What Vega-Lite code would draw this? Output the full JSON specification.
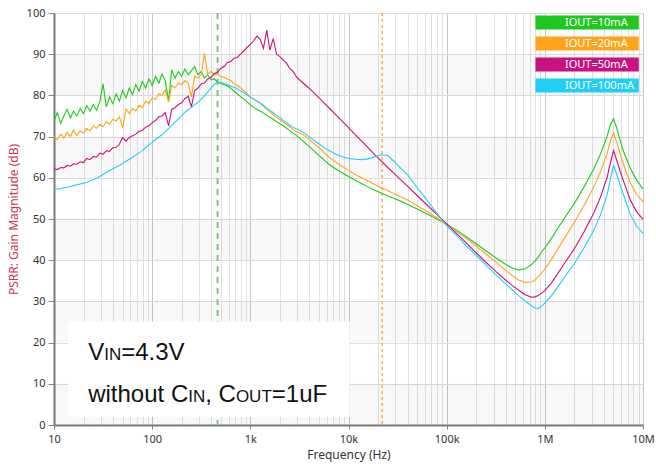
{
"$schema": "https://vega.github.io/schema/vega-lite/v6.json",
"width": 589, "height": 412,
"autosize": {"type": "none"},
"padding": {"left": 54, "top": 13, "right": 13, "bottom": 45},
"background": "white",
"config": {
  "font": "Noto Sans",
  "view": {"stroke": "#cccccc", "strokeWidth": 1},
  "axis": {"labelFont": "Noto Sans", "labelFontSize": 11, "labelColor": "#333333", "titleFont": "Noto Sans", "titleFontSize": 12, "titleFontWeight": "normal", "domainColor": "#7a7a7a", "domainWidth": 2, "tickColor": "#888888"}
},
"layer": [
  {
    "data": {"values": [{"lo": 0, "hi": 10}, {"lo": 20, "hi": 30}, {"lo": 40, "hi": 50}, {"lo": 60, "hi": 70}, {"lo": 80, "hi": 90}]},
    "mark": {"type": "rect", "fill": "#000000", "fillOpacity": 0.028},
    "encoding": {
      "y": {"field": "lo", "type": "quantitative", "scale": {"domain": [0, 100], "nice": false}},
      "y2": {"field": "hi"}
    }
  },
  {
    "data": {"values": [{}]},
    "mark": {"type": "rule", "color": "#80c480", "strokeWidth": 2, "strokeDash": [6, 5]},
    "encoding": {"x": {"datum": 464, "type": "quantitative", "scale": {"type": "log", "domain": [10, 10000000], "nice": false}}}
  },
  {
    "data": {"values": [{}]},
    "mark": {"type": "rule", "color": "#ff9a1f", "strokeWidth": 1.2, "strokeDash": [3, 3]},
    "encoding": {"x": {"datum": 22000, "type": "quantitative", "scale": {"type": "log", "domain": [10, 10000000], "nice": false}}}
  },
  {
    "data": {"values": [{}]},
    "mark": {"type": "rect", "fill": "white"},
    "encoding": {
      "x": {"datum": 14, "type": "quantitative", "scale": {"type": "log", "domain": [10, 10000000], "nice": false}},
      "x2": {"datum": 10300},
      "y": {"datum": 25.1, "type": "quantitative", "scale": {"domain": [0, 100], "nice": false}},
      "y2": {"datum": 2.0}
    }
  },
  {
    "data": {"values": [
{"f":10,"10mA":73.8,"20mA":70.0,"50mA":62.2,"100mA":57.2},
{"f":10.8,"10mA":75.8,"20mA":69.2,"50mA":62.0,"100mA":57.3},
{"f":11.7,"10mA":73.2,"20mA":70.6,"50mA":62.5,"100mA":57.4},
{"f":12.6,"10mA":75.0,"20mA":69.6,"50mA":62.4,"100mA":57.6},
{"f":13.6,"10mA":76.6,"20mA":71.0,"50mA":63.0,"100mA":57.7},
{"f":14.7,"10mA":74.5,"20mA":70.0,"50mA":62.8,"100mA":57.9},
{"f":15.8,"10mA":76.2,"20mA":71.6,"50mA":63.4,"100mA":58.1},
{"f":17.1,"10mA":75.0,"20mA":70.2,"50mA":63.3,"100mA":58.3},
{"f":18.5,"10mA":76.8,"20mA":71.4,"50mA":63.9,"100mA":58.5},
{"f":20.0,"10mA":75.6,"20mA":70.8,"50mA":63.7,"100mA":58.7},
{"f":21.5,"10mA":77.5,"20mA":72.0,"50mA":64.7,"100mA":58.9},
{"f":23.3,"10mA":76.2,"20mA":71.4,"50mA":64.4,"100mA":59.2},
{"f":25.1,"10mA":77.8,"20mA":72.6,"50mA":65.2,"100mA":59.5},
{"f":27.1,"10mA":76.4,"20mA":72.0,"50mA":65.0,"100mA":59.9},
{"f":29.3,"10mA":78.5,"20mA":73.0,"50mA":66.0,"100mA":60.3},
{"f":31.6,"10mA":82.8,"20mA":72.4,"50mA":65.7,"100mA":60.8},
{"f":34.1,"10mA":77.2,"20mA":73.6,"50mA":66.6,"100mA":61.3},
{"f":36.8,"10mA":79.6,"20mA":73.0,"50mA":66.4,"100mA":61.7},
{"f":39.8,"10mA":78.0,"20mA":74.2,"50mA":67.3,"100mA":62.2},
{"f":43.0,"10mA":80.4,"20mA":73.8,"50mA":67.4,"100mA":62.6},
{"f":46.4,"10mA":78.6,"20mA":74.8,"50mA":68.2,"100mA":63.0},
{"f":50.1,"10mA":81.2,"20mA":72.2,"50mA":69.8,"100mA":63.5},
{"f":54.1,"10mA":79.4,"20mA":76.8,"50mA":68.9,"100mA":64.0},
{"f":58.5,"10mA":81.8,"20mA":75.6,"50mA":69.8,"100mA":64.5},
{"f":63.1,"10mA":80.2,"20mA":76.8,"50mA":70.2,"100mA":65.0},
{"f":68.1,"10mA":82.6,"20mA":76.2,"50mA":70.6,"100mA":65.5},
{"f":73.6,"10mA":81.0,"20mA":77.6,"50mA":71.3,"100mA":66.0},
{"f":79.4,"10mA":83.4,"20mA":77.0,"50mA":71.5,"100mA":66.6},
{"f":85.8,"10mA":81.8,"20mA":78.6,"50mA":72.3,"100mA":67.3},
{"f":92.6,"10mA":84.0,"20mA":78.0,"50mA":72.6,"100mA":68.0},
{"f":100,"10mA":82.4,"20mA":79.4,"50mA":73.4,"100mA":68.6},
{"f":108,"10mA":84.6,"20mA":79.0,"50mA":73.9,"100mA":69.3},
{"f":117,"10mA":83.0,"20mA":80.4,"50mA":74.8,"100mA":69.9},
{"f":126,"10mA":85.2,"20mA":80.0,"50mA":75.0,"100mA":70.5},
{"f":136,"10mA":83.6,"20mA":81.4,"50mA":75.8,"100mA":71.2},
{"f":147,"10mA":78.6,"20mA":78.4,"50mA":72.6,"100mA":72.0},
{"f":158,"10mA":86.2,"20mA":82.4,"50mA":76.6,"100mA":72.7},
{"f":171,"10mA":84.2,"20mA":81.8,"50mA":77.0,"100mA":73.5},
{"f":185,"10mA":85.8,"20mA":83.0,"50mA":77.8,"100mA":74.3},
{"f":200,"10mA":84.6,"20mA":82.6,"50mA":78.2,"100mA":75.1},
{"f":215,"10mA":86.4,"20mA":83.6,"50mA":79.2,"100mA":75.9},
{"f":233,"10mA":85.0,"20mA":83.0,"50mA":79.8,"100mA":76.5},
{"f":251,"10mA":86.0,"20mA":79.6,"50mA":77.2,"100mA":77.1},
{"f":271,"10mA":87.0,"20mA":84.6,"50mA":81.2,"100mA":77.7},
{"f":293,"10mA":85.0,"20mA":84.2,"50mA":81.8,"100mA":78.3},
{"f":316,"10mA":85.8,"20mA":85.0,"50mA":82.8,"100mA":79.1},
{"f":341,"10mA":84.2,"20mA":90.2,"50mA":83.0,"100mA":79.9},
{"f":368,"10mA":85.0,"20mA":85.2,"50mA":84.0,"100mA":80.8},
{"f":398,"10mA":83.8,"20mA":85.8,"50mA":84.4,"100mA":81.8},
{"f":430,"10mA":84.0,"20mA":85.0,"50mA":85.3,"100mA":82.7},
{"f":464,"10mA":83.2,"20mA":85.2,"50mA":85.6,"100mA":83.2},
{"f":501,"10mA":82.9,"20mA":84.6,"50mA":86.6,"100mA":83.2},
{"f":541,"10mA":82.6,"20mA":84.4,"50mA":87.0,"100mA":82.9},
{"f":585,"10mA":82.3,"20mA":84.0,"50mA":88.0,"100mA":82.6},
{"f":631,"10mA":81.8,"20mA":83.6,"50mA":88.2,"100mA":82.3},
{"f":681,"10mA":81.0,"20mA":82.8,"50mA":89.0,"100mA":82.0},
{"f":736,"10mA":80.4,"20mA":82.4,"50mA":89.2,"100mA":81.6},
{"f":794,"10mA":79.7,"20mA":81.8,"50mA":90.0,"100mA":81.1},
{"f":891,"10mA":78.8,"20mA":80.8,"50mA":91.2,"100mA":80.4},
{"f":1000,"10mA":77.7,"20mA":79.7,"50mA":92.4,"100mA":79.6},
{"f":1080,"10mA":77.1,"20mA":79.2,"50mA":93.2,"100mA":79.1},
{"f":1170,"10mA":76.6,"20mA":78.6,"50mA":94.4,"100mA":78.6},
{"f":1260,"10mA":76.2,"20mA":78.0,"50mA":93.6,"100mA":78.1},
{"f":1360,"10mA":75.7,"20mA":77.4,"50mA":91.4,"100mA":77.6},
{"f":1470,"10mA":75.2,"20mA":76.6,"50mA":95.8,"100mA":76.9},
{"f":1580,"10mA":74.7,"20mA":76.0,"50mA":91.0,"100mA":76.4},
{"f":1710,"10mA":74.2,"20mA":75.3,"50mA":93.8,"100mA":75.8},
{"f":1850,"10mA":73.6,"20mA":74.7,"50mA":90.0,"100mA":75.2},
{"f":2000,"10mA":73.1,"20mA":74.1,"50mA":89.4,"100mA":74.6},
{"f":2150,"10mA":72.7,"20mA":73.6,"50mA":88.6,"100mA":74.0},
{"f":2330,"10mA":72.1,"20mA":73.0,"50mA":87.9,"100mA":73.4},
{"f":2510,"10mA":71.5,"20mA":72.4,"50mA":86.6,"100mA":72.8},
{"f":2710,"10mA":70.9,"20mA":71.8,"50mA":85.9,"100mA":72.3},
{"f":2930,"10mA":70.3,"20mA":71.2,"50mA":84.6,"100mA":71.9},
{"f":3160,"10mA":69.7,"20mA":71.0,"50mA":83.8,"100mA":71.6},
{"f":3680,"10mA":68.3,"20mA":70.0,"50mA":82.4,"100mA":70.6},
{"f":4300,"10mA":66.9,"20mA":68.6,"50mA":81.0,"100mA":69.4},
{"f":5010,"10mA":65.4,"20mA":67.3,"50mA":79.4,"100mA":68.2},
{"f":6310,"10mA":63.3,"20mA":65.0,"50mA":77.0,"100mA":66.6},
{"f":7940,"10mA":61.7,"20mA":63.3,"50mA":74.6,"100mA":65.4},
{"f":10000,"10mA":60.3,"20mA":61.8,"50mA":72.2,"100mA":64.7},
{"f":11700,"10mA":59.4,"20mA":60.8,"50mA":70.5,"100mA":64.5},
{"f":13600,"10mA":58.6,"20mA":60.0,"50mA":68.9,"100mA":64.4},
{"f":15800,"10mA":57.8,"20mA":59.2,"50mA":67.3,"100mA":64.6},
{"f":18500,"10mA":57.0,"20mA":58.4,"50mA":65.6,"100mA":65.1},
{"f":21500,"10mA":56.3,"20mA":57.6,"50mA":64.1,"100mA":65.6},
{"f":25100,"10mA":55.6,"20mA":56.9,"50mA":62.5,"100mA":65.4},
{"f":29300,"10mA":55.0,"20mA":56.1,"50mA":61.0,"100mA":63.9},
{"f":34100,"10mA":54.3,"20mA":55.4,"50mA":59.5,"100mA":62.3},
{"f":39800,"10mA":53.6,"20mA":54.6,"50mA":58.0,"100mA":60.8},
{"f":50100,"10mA":52.4,"20mA":53.2,"50mA":55.7,"100mA":57.6},
{"f":63100,"10mA":51.2,"20mA":51.8,"50mA":53.4,"100mA":54.6},
{"f":79400,"10mA":50.0,"20mA":50.3,"50mA":51.1,"100mA":51.4},
{"f":100000,"10mA":48.7,"20mA":48.8,"50mA":48.8,"100mA":48.4},
{"f":126000,"10mA":47.3,"20mA":47.0,"50mA":46.5,"100mA":46.0},
{"f":158000,"10mA":45.7,"20mA":45.3,"50mA":44.2,"100mA":43.5},
{"f":200000,"10mA":44.0,"20mA":43.4,"50mA":41.8,"100mA":41.2},
{"f":251000,"10mA":42.3,"20mA":41.5,"50mA":39.5,"100mA":38.8},
{"f":316000,"10mA":40.6,"20mA":39.6,"50mA":37.3,"100mA":36.5},
{"f":398000,"10mA":39.0,"20mA":37.6,"50mA":35.2,"100mA":34.3},
{"f":464000,"10mA":38.1,"20mA":36.3,"50mA":33.9,"100mA":32.8},
{"f":541000,"10mA":37.6,"20mA":35.2,"50mA":32.7,"100mA":31.4},
{"f":631000,"10mA":37.9,"20mA":34.6,"50mA":31.6,"100mA":30.1},
{"f":736000,"10mA":39.0,"20mA":34.7,"50mA":31.0,"100mA":28.9},
{"f":794000,"10mA":39.8,"20mA":35.2,"50mA":31.1,"100mA":28.4},
{"f":858000,"10mA":40.8,"20mA":36.0,"50mA":31.4,"100mA":28.3},
{"f":926000,"10mA":42.0,"20mA":36.9,"50mA":32.0,"100mA":28.8},
{"f":1000000,"10mA":43.0,"20mA":37.9,"50mA":32.6,"100mA":29.6},
{"f":1170000,"10mA":45.3,"20mA":40.2,"50mA":34.5,"100mA":31.4},
{"f":1360000,"10mA":47.8,"20mA":42.8,"50mA":36.8,"100mA":33.6},
{"f":1580000,"10mA":50.2,"20mA":45.3,"50mA":39.2,"100mA":35.8},
{"f":2000000,"10mA":53.8,"20mA":49.2,"50mA":42.8,"100mA":39.2},
{"f":2510000,"10mA":57.8,"20mA":53.3,"50mA":46.9,"100mA":43.0},
{"f":3160000,"10mA":62.2,"20mA":57.8,"50mA":51.5,"100mA":47.3},
{"f":3690000,"10mA":65.8,"20mA":61.5,"50mA":55.3,"100mA":51.0},
{"f":4300000,"10mA":70.0,"20mA":65.8,"50mA":60.0,"100mA":55.8},
{"f":4640000,"10mA":72.8,"20mA":68.8,"50mA":63.5,"100mA":59.6},
{"f":5010000,"10mA":74.4,"20mA":70.9,"50mA":66.6,"100mA":63.0},
{"f":5410000,"10mA":72.0,"20mA":68.6,"50mA":64.2,"100mA":60.8},
{"f":5850000,"10mA":69.0,"20mA":65.8,"50mA":61.6,"100mA":58.3},
{"f":6310000,"10mA":66.5,"20mA":63.3,"50mA":59.3,"100mA":56.0},
{"f":7360000,"10mA":62.5,"20mA":59.0,"50mA":54.8,"100mA":51.3},
{"f":8580000,"10mA":59.5,"20mA":56.0,"50mA":51.8,"100mA":48.3},
{"f":10000000,"10mA":57.3,"20mA":54.2,"50mA":49.9,"100mA":46.5}
    ]},
    "transform": [{"fold": ["10mA", "20mA", "50mA", "100mA"], "as": ["key", "db"]}],
    "mark": {"type": "line", "strokeWidth": 1.1},
    "encoding": {
      "x": {"field": "f", "type": "quantitative",
        "scale": {"type": "log", "domain": [10, 10000000], "nice": false},
        "axis": {
          "title": "Frequency (Hz)", "titleColor": "#333333", "titlePadding": 5,
          "values": [10,20,30,40,50,60,70,80,90,100,200,300,400,500,600,700,800,900,1000,2000,3000,4000,5000,6000,7000,8000,9000,10000,20000,30000,40000,50000,60000,70000,80000,90000,100000,200000,300000,400000,500000,600000,700000,800000,900000,1000000,2000000,3000000,4000000,5000000,6000000,7000000,8000000,9000000,10000000],
          "labelExpr": "datum.value==10?'10':datum.value==100?'100':datum.value==1000?'1k':datum.value==10000?'10k':datum.value==100000?'100k':datum.value==1000000?'1M':datum.value==10000000?'10M':''",
          "labelOverlap": false, "labelFlush": false, "labelBound": false, "labelPadding": 4,
          "grid": true,
          "gridColor": {"condition": {"test": "indexof([10,100,1000,10000,100000,1000000,10000000], datum.value) >= 0", "value": "#c6c6c6"}, "value": "#e2e2e2"},
          "tickSize": 4,
          "tickOpacity": {"condition": {"test": "indexof([10,100,1000,10000,100000,1000000,10000000], datum.value) >= 0", "value": 1}, "value": 0}
        }
      },
      "y": {"field": "db", "type": "quantitative",
        "scale": {"domain": [0, 100], "nice": false},
        "axis": {
          "title": "PSRR: Gain Magnitude (dB)", "titleColor": "#cc3355", "titlePadding": 6,
          "values": [0,10,20,30,40,50,60,70,80,90,100],
          "grid": true, "gridColor": "#dcdcdc", "tickSize": 6, "labelPadding": 3
        }
      },
      "color": {"field": "key", "type": "nominal",
        "scale": {"domain": ["10mA", "20mA", "50mA", "100mA"], "range": ["#1fc81f", "#ffa31a", "#c8127f", "#1fcff5"]},
        "legend": {
          "orient": "top-right", "offset": 4, "padding": 0, "title": null,
          "symbolType": "M-1,-1.4H19.66V1.4H-1Z", "symbolSize": 100, "symbolStrokeWidth": 0, "symbolOpacity": 1,
          "labelColor": "white", "labelFont": "Noto Sans", "labelFontSize": 11, "labelOffset": 19, "rowPadding": 6,
          "labelExpr": "'IOUT=' + datum.label",
          "encode": {"symbols": {"update": {"fill": {"scale": "color", "field": "value"}, "stroke": {"value": "transparent"}}}}
        }
      }
    }
  },
  {"data": {"values": [{}]}, "mark": {"type": "text", "text": "V", "font": "Liberation Sans", "fontSize": 24, "align": "left", "baseline": "alphabetic", "color": "#111111", "dx": 0},
   "encoding": {"x": {"datum": 22.3, "type": "quantitative", "scale": {"type": "log", "domain": [10, 10000000], "nice": false}}, "y": {"datum": 15.8, "type": "quantitative", "scale": {"domain": [0, 100], "nice": false}}}},
  {"data": {"values": [{}]}, "mark": {"type": "text", "text": "IN", "font": "Liberation Sans", "fontSize": 17, "align": "left", "baseline": "alphabetic", "color": "#111111", "dx": 16},
   "encoding": {"x": {"datum": 22.3, "type": "quantitative", "scale": {"type": "log", "domain": [10, 10000000], "nice": false}}, "y": {"datum": 15.8, "type": "quantitative", "scale": {"domain": [0, 100], "nice": false}}}},
  {"data": {"values": [{}]}, "mark": {"type": "text", "text": "=4.3V", "font": "Liberation Sans", "fontSize": 24, "align": "left", "baseline": "alphabetic", "color": "#111111", "dx": 33},
   "encoding": {"x": {"datum": 22.3, "type": "quantitative", "scale": {"type": "log", "domain": [10, 10000000], "nice": false}}, "y": {"datum": 15.8, "type": "quantitative", "scale": {"domain": [0, 100], "nice": false}}}},
  {"data": {"values": [{}]}, "mark": {"type": "text", "text": "without C", "font": "Liberation Sans", "fontSize": 24, "align": "left", "baseline": "alphabetic", "color": "#111111", "dx": 0},
   "encoding": {"x": {"datum": 22.3, "type": "quantitative", "scale": {"type": "log", "domain": [10, 10000000], "nice": false}}, "y": {"datum": 5.66, "type": "quantitative", "scale": {"domain": [0, 100], "nice": false}}}},
  {"data": {"values": [{}]}, "mark": {"type": "text", "text": "IN", "font": "Liberation Sans", "fontSize": 17, "align": "left", "baseline": "alphabetic", "color": "#111111", "dx": 100},
   "encoding": {"x": {"datum": 22.3, "type": "quantitative", "scale": {"type": "log", "domain": [10, 10000000], "nice": false}}, "y": {"datum": 5.66, "type": "quantitative", "scale": {"domain": [0, 100], "nice": false}}}},
  {"data": {"values": [{}]}, "mark": {"type": "text", "text": ", C", "font": "Liberation Sans", "fontSize": 24, "align": "left", "baseline": "alphabetic", "color": "#111111", "dx": 117},
   "encoding": {"x": {"datum": 22.3, "type": "quantitative", "scale": {"type": "log", "domain": [10, 10000000], "nice": false}}, "y": {"datum": 5.66, "type": "quantitative", "scale": {"domain": [0, 100], "nice": false}}}},
  {"data": {"values": [{}]}, "mark": {"type": "text", "text": "OUT", "font": "Liberation Sans", "fontSize": 17, "align": "left", "baseline": "alphabetic", "color": "#111111", "dx": 147.7},
   "encoding": {"x": {"datum": 22.3, "type": "quantitative", "scale": {"type": "log", "domain": [10, 10000000], "nice": false}}, "y": {"datum": 5.66, "type": "quantitative", "scale": {"domain": [0, 100], "nice": false}}}},
  {"data": {"values": [{}]}, "mark": {"type": "text", "text": "=1uF", "font": "Liberation Sans", "fontSize": 24, "align": "left", "baseline": "alphabetic", "color": "#111111", "dx": 183.6},
   "encoding": {"x": {"datum": 22.3, "type": "quantitative", "scale": {"type": "log", "domain": [10, 10000000], "nice": false}}, "y": {"datum": 5.66, "type": "quantitative", "scale": {"domain": [0, 100], "nice": false}}}}
]
}
